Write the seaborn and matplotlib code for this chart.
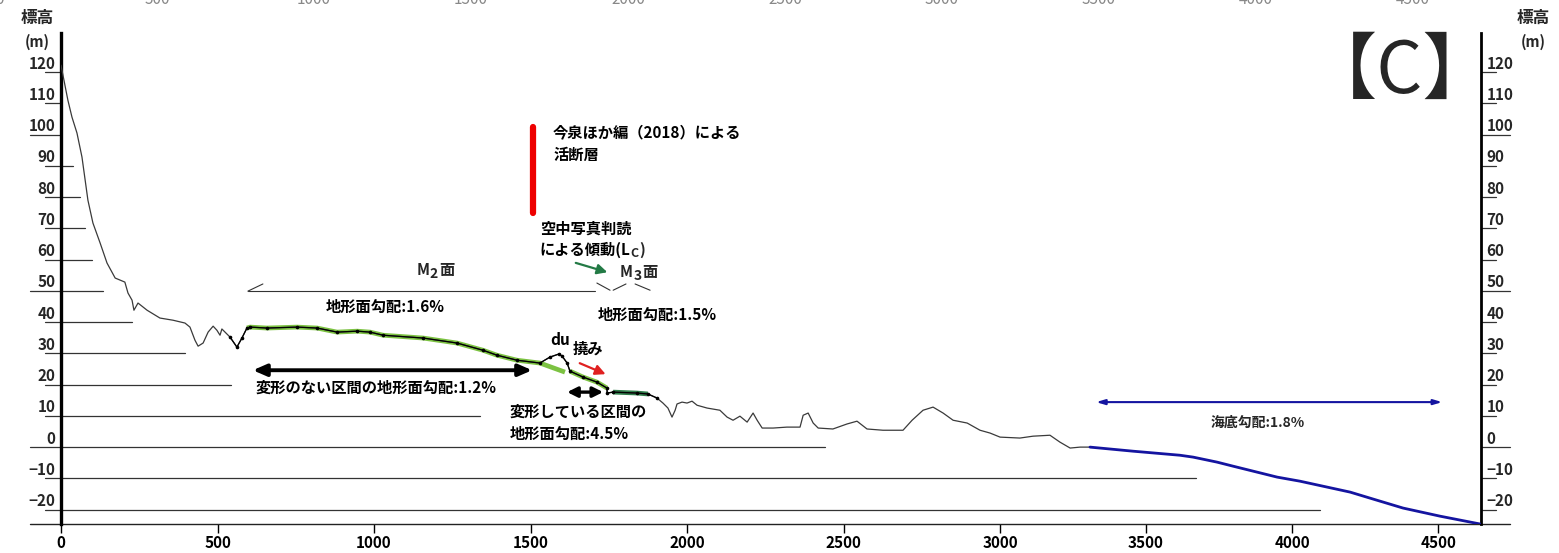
import numpy as np
import matplotlib
matplotlib.use("Agg")
import matplotlib.pyplot as plt
import matplotlib.transforms as mtrans
import seaborn as sns

# --- profile (distance m, elevation m) ---
dist = [0, 22, 35, 51, 67, 86, 102, 125, 147, 173, 204, 214, 227, 233, 246, 275, 316, 358,
        396, 412, 428, 438, 454, 470, 486, 498, 508, 514, 540, 562, 578, 594, 604, 658, 754,
        818, 882, 946, 987, 1029, 1157, 1265, 1348, 1393, 1457, 1530, 1562, 1591, 1601, 1617,
        1626, 1668, 1712, 1744, 1745, 1764, 1840, 1875, 1904, 1923, 1939, 1952, 1962, 1968,
        1984, 2000, 2016, 2032, 2064, 2105, 2128, 2147, 2169, 2192, 2211, 2224, 2240, 2275,
        2319, 2361, 2371, 2387, 2403, 2419, 2466, 2511, 2543, 2575, 2626, 2690, 2719, 2754,
        2786, 2818, 2850, 2895, 2936, 2968, 3000, 3068, 3113, 3171, 3205, 3240, 3274, 3308]
elev = [122.2, 111, 105.6, 100.5, 92.8, 79, 71.7, 65.3, 58.9, 54.1, 52.8, 49.3, 47, 43.8,
        46.1, 43.8, 41.3, 40.6, 39.7, 38.4, 34.2, 32.3, 33.3, 36.8, 38.7, 37.4, 35.8, 37.8,
        35.2, 32, 34.9, 38.1, 38.4, 38.1, 38.4, 38.1, 36.8, 37.1, 36.8, 35.8, 34.9, 33.3, 31,
        29.4, 27.8, 26.9, 28.8, 29.8, 29.1, 26.9, 24.3, 22.4, 20.8, 18.9, 17.3, 17.6, 17.3,
        17, 15.7, 14.1, 12.5, 9.6, 11.8, 13.8, 14.4, 14.1, 14.7, 13.4, 12.5, 11.8, 9.6, 8.6,
        9.9, 8, 10.9, 8.6, 6.1, 6.1, 6.4, 6.4, 10.2, 10.9, 7.7, 6.1, 5.8, 7.4, 8.3, 5.8, 5.4,
        5.4, 8.6, 11.8, 12.8, 10.9, 8.6, 7.7, 5.4, 4.5, 3.2, 2.9, 3.5, 3.8, 1.6, -0.3, 0, 0]

# seabed part (blue)
sea_dist = [3308, 3455, 3616, 3661, 3743, 3798, 3949, 4027, 4199, 4291, 4380, 4507, 4644]
sea_elev = [0, -1.3, -2.6, -3.2, -4.8, -6.1, -9.6, -10.9, -14.4, -17, -19.5, -22.1, -24.6]

# terrace surfaces traced in green
m2_dist = [594, 604, 658, 754, 818, 882, 946, 987, 1029, 1157, 1265, 1348, 1393, 1457, 1530, 1610]
m2_elev = [38.1, 38.4, 38.1, 38.4, 38.1, 36.8, 37.1, 36.8, 35.8, 34.9, 33.3, 31, 29.4, 27.8, 26.9, 24.0]
def_dist = [1626, 1668, 1712, 1744]
def_elev = [24.3, 22.4, 20.8, 18.9]
m3_dist = [1764, 1840, 1875]
m3_elev = [17.6, 17.3, 17.0]

# elevation reference lines: level and how far they run to the right
levels = [120, 110, 100, 90, 80, 70, 60, 50, 40, 30, 20, 10, 0, -10, -20]
level_end = [0, 0, 0, 38, 61, 77, 99, 134, 227, 396, 543, 1339, 2441, 3671, 4096]
major_levels = [100, 50, 0]

x_ticks = [0, 500, 1000, 1500, 2000, 2500, 3000, 3500, 4000, 4500]
top_labels = ["0", "500", "1000", "1500", "2000", "2500", "3000", "3500", "4000", "4500"]

XMAX = 4647
YMIN, YMAX = -24.6, 132.5
K = 146 / 156.5  # horizontal compression beyond 3000 m in the original figure


def fwd(x):
    x = np.asarray(x, dtype=float)
    return np.where(x <= 3000, x, 3000 + (x - 3000) * K)


def inv(x):
    x = np.asarray(x, dtype=float)
    return np.where(x <= 3000, x, 3000 + (x - 3000) / K)


def sub_label(ax, x, y, base, sub, tail, ha='left'):
    # text with a lowered subscript, chained piece by piece
    t1 = ax.text(x, y, base, va='center', ha=ha, fontsize=11, fontweight='bold')
    t2 = ax.annotate(sub, xy=(1, 0), xycoords=t1, xytext=(0.5, -2), textcoords='offset points',
                     ha='left', va='bottom', fontsize=10, fontweight='bold')
    ax.annotate(tail, xy=(1, 0), xycoords=t2, xytext=(0.5, 2), textcoords='offset points',
                ha='left', va='bottom', fontsize=11, fontweight='bold')


sns.set_style("white")
plt.rcParams['font.family'] = ['Noto Sans CJK JP', 'DejaVu Sans']
plt.rcParams['axes.unicode_minus'] = True

W, H = 1559, 553
fig = plt.figure(figsize=(W / 100, H / 100), dpi=100)
ax = fig.add_axes([61 / W, (H - 524) / H, (1481 - 61) / W, (524 - 33) / H])
ax.set_xscale('function', functions=(fwd, inv))
ax.set_xlim(0, XMAX)
ax.set_ylim(YMIN, YMAX)

# reference lines
for lv, end in zip(levels, level_end):
    left = -99 if lv in major_levels else -51
    right = 4747 if lv in major_levels else 4699
    ax.plot([left, end], [lv, lv], color='#333333', lw=0.9, clip_on=False, zorder=1)
    ax.plot([XMAX, right], [lv, lv], color='#333333', lw=0.9, clip_on=False, zorder=1)
ax.plot([-99, 4747], [YMIN, YMIN], color='#222222', lw=1.0, clip_on=False, zorder=1)

# green surfaces under the profile
ax.plot(m2_dist, m2_elev, color='#7cc242', lw=3.4, solid_capstyle='butt', zorder=2)
ax.plot(def_dist, def_elev, color='#7cc242', lw=3.4, solid_capstyle='butt', zorder=2)
ax.plot(m3_dist, m3_elev, color='#2f7d4a', lw=3.4, solid_capstyle='butt', zorder=2)

# profile
sns.lineplot(x=dist, y=elev, sort=False, estimator=None, color='#3a3a3a', lw=0.9, ax=ax, zorder=3)
d = np.array(dist)
e = np.array(elev)
sel = (d >= 540) & (d <= 1904)
ax.plot(d[sel], e[sel], color='black', lw=0.9, marker='o', ms=1.6, zorder=4)
sns.lineplot(x=sea_dist, y=sea_elev, sort=False, estimator=None, color='#1414a0', lw=2.0, ax=ax, zorder=3)

# spines
for s in ['top', 'bottom']:
    ax.spines[s].set_visible(False)
ax.spines['left'].set_linewidth(2.4)
ax.spines['right'].set_linewidth(2.0)
ax.spines['left'].set_color('black')
ax.spines['right'].set_color('black')

# ticks
ax.set_xticks(x_ticks)
ax.set_xticklabels([str(t) for t in x_ticks], fontweight='bold', fontsize=11)
ax.tick_params(axis='x', direction='out', length=6.5, width=1.0, pad=1.5, bottom=True, colors='black')
ax.set_yticks(levels)
ax.set_yticklabels([str(v).replace('-', '−') for v in levels], fontweight='bold', fontsize=11)
ax.tick_params(axis='y', length=0, left=True, right=True, labelleft=True, labelright=True)
ax.yaxis.set_tick_params(which='major', pad=4)
ax.grid(False)

# annotations
kw = dict(fontsize=11, fontweight='bold', color='black')
ax.plot([1508, 1508], [74.9, 102.4], color='#ee0000', lw=4.5, solid_capstyle='round', zorder=5)
ax.text(1572, 100.8, '今泉ほか編（2018）による', va='center', ha='left', **kw)
ax.text(1572, 93.4, '活断層', va='center', ha='left', **kw)

ax.text(1530, 70, '空中写真判読', va='center', ha='left', **kw)
t_lc = ax.text(1530, 63, 'による傾動(L', va='center', ha='left', **kw)
t_c = ax.annotate('C', xy=(1, 0), xycoords=t_lc, xytext=(0, -1), textcoords='offset points',
                  ha='left', va='bottom', fontsize=9, fontweight='bold')
ax.annotate(')', xy=(1, 0), xycoords=t_c, xytext=(0, 1), textcoords='offset points',
            ha='left', va='bottom', fontsize=11, fontweight='bold')
ax.annotate('', xy=(1754, 55.7), xytext=(1636, 59.2),
            arrowprops=dict(arrowstyle='-|>,head_length=0.6,head_width=0.3', color='#237a45', lw=1.6))

sub_label(ax, 1135, 56.6, 'M', '2', '面')
sub_label(ax, 1786, 56.0, 'M', '3', '面')
bk = dict(color='#333333', lw=0.8)
ax.plot([597, 1706], [49.9, 49.9], **bk)
ax.plot([597, 645], [49.9, 52.2], **bk)
ax.plot([1712, 1754], [52.5, 50.2], **bk)
ax.plot([1764, 1805], [50.2, 52.2], **bk)
ax.plot([1834, 1882], [52.2, 50.2], **bk)
ax.text(1035, 44.8, '地形面勾配:1.6%', va='center', ha='center', **kw)
ax.text(1716, 42.2, '地形面勾配:1.5%', va='center', ha='left', **kw)

ax.text(1594, 34.2, 'du', va='center', ha='center', **kw)
ax.text(1636, 31.4, '撓み', va='center', ha='left', **kw)
ax.annotate('', xy=(1748, 23), xytext=(1649, 27.2),
            arrowprops=dict(arrowstyle='-|>,head_length=0.6,head_width=0.3', color='#e02020', lw=1.6))

ax.annotate('', xy=(1505, 24.6), xytext=(613, 24.6),
            arrowprops=dict(arrowstyle='<|-|>,head_length=0.8,head_width=0.35', color='black', lw=2.8,
                            shrinkA=0, shrinkB=0))
ax.text(620, 18.9, '変形のない区間の地形面勾配:1.2%', va='center', ha='left', **kw)
ax.annotate('', xy=(1732, 17.6), xytext=(1617, 17.6),
            arrowprops=dict(arrowstyle='<|-|>,head_length=0.6,head_width=0.3', color='black', lw=2.4,
                            shrinkA=0, shrinkB=0))
ax.text(1434, 11.2, '変形している区間の', va='center', ha='left', **kw)
ax.text(1434, 4.2, '地形面勾配:4.5%', va='center', ha='left', **kw)

ax.annotate('', xy=(4514, 14.4), xytext=(3329, 14.4),
            arrowprops=dict(arrowstyle='<|-|>,head_length=0.5,head_width=0.15', color='#1414a0', lw=1.5,
                            shrinkA=0, shrinkB=0))
ax.text(3884, 7.7, '海底勾配:1.8%', va='center', ha='center', fontsize=10, fontweight='bold')

# axis captions
for xp in (37, 1533):
    fig.text(xp / W, 1 - 18 / H, '標高', ha='center', va='center', fontsize=12, fontweight='bold')
    fig.text(xp / W, 1 - 42 / H, '(m)', ha='center', va='center', fontsize=10.5, fontweight='bold')

fig.text(1400 / W, 1 - 72 / H, '【C】', ha='center', va='center', fontsize=52)

# cut-off labels of the panel above
for i, lab in enumerate(top_labels):
    fig.text(i * 157 / W, 1 - 4 / H, lab, ha='center', va='baseline', fontsize=11, color='#888888')

# lift y tick labels above their reference lines
off = mtrans.ScaledTranslation(0, 10 / 100, fig.dpi_scale_trans)
for tk in ax.yaxis.get_major_ticks():
    tk.label1.set_transform(tk.label1.get_transform() + off)
    tk.label2.set_transform(tk.label2.get_transform() + off)

fig.savefig("out.png", dpi=100)
